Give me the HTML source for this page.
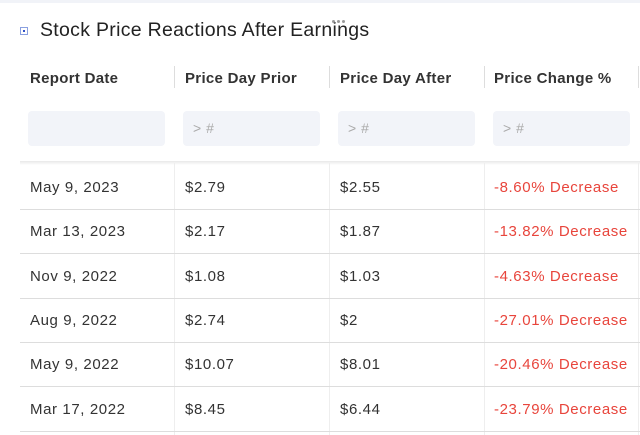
<!DOCTYPE html>
<html><head><meta charset="utf-8"><style>
body{margin:0;width:640px;height:435px;background:#fff;font-family:"Liberation Sans",sans-serif;position:relative;overflow:hidden;color:#333}
.a{position:absolute}
.hd{font-weight:bold;font-size:15px;color:#333;top:70px;letter-spacing:0.3px}
.vd{width:1px;height:22px;background:#ddd;top:66px}
.f{top:111px;height:35px;width:137px;background:#f2f4f9;border-radius:4px;color:#aaa;font-size:14px;line-height:35px;box-sizing:border-box;padding-left:10px;letter-spacing:0.5px}
.c{font-size:15px;line-height:44px;color:#333;letter-spacing:0.6px}
.r{color:#e8453c}
.hl{left:20px;width:620px;height:1px;background:#ddd}
.cl{width:1px;background:#eee;top:163px;height:272px}
.dot{position:absolute;width:3px;height:3px;border-radius:50%;background:#999;top:20px}
</style></head><body>
<div class="a" style="left:0;top:0;width:640px;height:3px;background:#f1f3f8"></div>
<div class="a" style="left:20px;top:27px;width:8px;height:8px;border:1px solid #8aa0e0;box-sizing:border-box;background:#fff"><div style="margin:2px;width:2px;height:2px;background:#3352c8"></div></div>
<div class="a" style="left:40px;top:19px;font-size:19.5px;color:#222;letter-spacing:0.3px">Stock Price Reactions After Earnings</div>
<div class="a" style="left:332px;top:0;width:16px;height:26px"><div class="dot" style="left:0"></div><div class="dot" style="left:5px"></div><div class="dot" style="left:10px"></div></div>
<div class="a hd" style="left:30px">Report Date</div>
<div class="a hd" style="left:185px">Price Day Prior</div>
<div class="a hd" style="left:340px">Price Day After</div>
<div class="a hd" style="left:494px">Price Change %</div>
<div class="a vd" style="left:174px"></div>
<div class="a vd" style="left:329px"></div>
<div class="a vd" style="left:484px"></div>
<div class="a vd" style="left:638px"></div>
<div class="a f" style="left:28px"></div>
<div class="a f" style="left:183px">&gt; #</div>
<div class="a f" style="left:338px">&gt; #</div>
<div class="a f" style="left:493px">&gt; #</div>
<div class="a" style="left:20px;top:161px;width:620px;height:4px;background:linear-gradient(#e8e8e8,#fff)"></div>
<div class="a cl" style="left:174px"></div>
<div class="a cl" style="left:329px"></div>
<div class="a cl" style="left:484px"></div>
<div class="a cl" style="left:638px"></div>
<div id="rows"></div>
<script>
const dates=["May 9, 2023","Mar 13, 2023","Nov 9, 2022","Aug 9, 2022","May 9, 2022","Mar 17, 2022"];
const prior=["$2.79","$2.17","$1.08","$2.74","$10.07","$8.45"];
const after=["$2.55","$1.87","$1.03","$2","$8.01","$6.44"];
const change=["-8.60% Decrease","-13.82% Decrease","-4.63% Decrease","-27.01% Decrease","-20.46% Decrease","-23.79% Decrease"];
const host=document.getElementById('rows');
const xs=[30,185,340,494];
dates.forEach((d,i)=>{
  const top=165+i*44.3;
  const vals=[d,prior[i],after[i],change[i]];
  vals.forEach((v,j)=>{
    const el=document.createElement('div');
    el.className='a c'+(j===3?' r':'');
    el.style.left=xs[j]+'px';el.style.top=(top+1)+'px';
    el.textContent=v;
    
    
    host.appendChild(el);
  });
  const l=document.createElement('div');
  l.className='a hl';l.style.top=(top+44)+'px';
  
  
  host.appendChild(l);
});
</script>
</body></html>
